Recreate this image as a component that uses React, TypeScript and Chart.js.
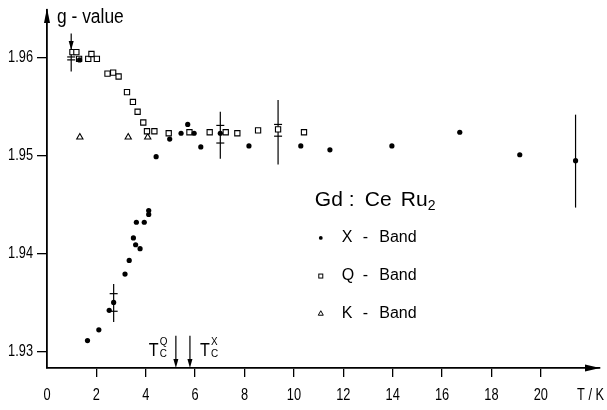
import React, { useEffect, useRef } from "react";
import { Chart, registerables } from "chart.js";

Chart.register(...registerables);

const REG = '"Liberation Sans", Arial, sans-serif';

// ---- axis ticks ----
const xTickValues = [0, 2, 4, 6, 8, 10, 12, 14, 16, 18, 20];
const yTickValues = [1.93, 1.94, 1.95, 1.96];
const xMin = 0;
const xMax = 22.4;
const yMin = 1.9283;
const yMax = 1.9649;

// ---- X-band (filled circles) ----
const xBandT = [1.32, 1.64, 2.1, 2.52, 2.7, 3.16, 3.33, 3.5, 3.59, 3.77, 3.62, 3.94, 4.12, 4.12, 4.42, 4.97, 5.43, 5.7, 5.96, 6.23, 7.02, 8.18, 10.28, 11.46, 13.97, 16.72, 19.15, 21.41];
const xBandG = [1.9598, 1.9311, 1.9322, 1.9342, 1.935, 1.9379, 1.9393, 1.9416, 1.9409, 1.9405, 1.9432, 1.9432, 1.944, 1.9444, 1.9499, 1.9517, 1.9523, 1.9532, 1.9523, 1.9509, 1.9523, 1.951, 1.951, 1.9506, 1.951, 1.9524, 1.9501, 1.9495];

// ---- Q-band (open squares) ----
const qBandT = [1.03, 1.19, 1.3, 1.67, 1.8, 2.02, 2.45, 2.68, 2.9, 3.24, 3.48, 3.67, 3.9, 4.05, 4.35, 4.93, 5.77, 6.59, 7.24, 7.71, 8.55, 9.36, 10.41];
const qBandG = [1.9606, 1.9606, 1.9599, 1.9599, 1.9604, 1.9599, 1.9584, 1.9585, 1.9581, 1.9565, 1.9555, 1.9545, 1.9534, 1.9525, 1.9525, 1.9523, 1.9524, 1.9524, 1.9524, 1.9523, 1.9526, 1.9527, 1.9524];

// ---- K-band (open triangles) ----
const kBandT = [1.33, 3.29, 4.08];
const kBandG = [1.9519, 1.9519, 1.9519];

// ---- error bars ----
const errT = [0.98, 2.7, 7.02, 9.36, 21.41];
const errHigh = [1.9625, 1.9369, 1.9545, 1.9557, 1.9542];
const errLow = [1.9586, 1.933, 1.9497, 1.9491, 1.9447];
const errCapHigh = [1.9601, 1.9359, 1.9531, 1.9532, null];
const errCapLow = [1.9598, 1.9341, 1.9513, 1.952, null];
const errArrow = [1.9608, null, null, null, null];

// ---- transition temperatures ----
const tcT = [5.22, 5.79];
const tcSup = ["Q", "X"];
const tcTopG = 1.9316;

// ---- legend ----
const legendTitleT = 10.85;
const legendTitleG = 1.9455;
const legendMarkerT = 11.09;
const legendTextT = 11.94;
const legendRowsG = [1.9416, 1.9377, 1.9339];
const legendNames = ["X", "Q", "K"];
const legendStyles = ["circle", "rect", "triangle"];

// draw horizontally condensed text (technical lettering look)
function narrowText(ctx: any, text: string, x: number, y: number, size: number, align: string, sx: number) {
  ctx.save();
  ctx.font = `${size}px ${REG}`;
  ctx.textBaseline = "middle";
  ctx.textAlign = align;
  ctx.translate(x, y);
  ctx.scale(sx, 1);
  ctx.fillText(text, 0, 0);
  ctx.restore();
}

const overlay = {
  id: "overlay",
  beforeDatasetsDraw(chart: any) {
    const { ctx } = chart;
    const x = chart.scales.x;
    const y = chart.scales.y;
    ctx.save();
    ctx.strokeStyle = "#000";
    ctx.fillStyle = "#000";
    ctx.lineWidth = 1.2;
    errT.forEach((t, i) => {
      const px = x.getPixelForValue(t);
      ctx.beginPath();
      ctx.moveTo(px, y.getPixelForValue(errHigh[i]));
      ctx.lineTo(px, y.getPixelForValue(errLow[i]));
      ctx.stroke();
      [errCapHigh[i], errCapLow[i]].forEach((c) => {
        if (c != null) {
          const py = y.getPixelForValue(c);
          ctx.beginPath();
          ctx.moveTo(px - 4, py);
          ctx.lineTo(px + 4, py);
          ctx.stroke();
        }
      });
      const a = errArrow[i];
      if (a != null) {
        const py = y.getPixelForValue(a);
        ctx.beginPath();
        ctx.moveTo(px, py);
        ctx.lineTo(px - 2.5, py - 9);
        ctx.lineTo(px + 2.5, py - 9);
        ctx.closePath();
        ctx.fill();
      }
    });
    ctx.restore();
  },
  afterDraw(chart: any) {
    const { ctx, chartArea } = chart;
    const x = chart.scales.x;
    const y = chart.scales.y;
    ctx.save();
    ctx.fillStyle = "#000";
    ctx.strokeStyle = "#000";

    // tick labels
    xTickValues.forEach((v) => {
      narrowText(ctx, String(v), x.getPixelForValue(v), chartArea.bottom + 28, 16, "center", 0.8);
    });
    yTickValues.forEach((v) => {
      narrowText(ctx, v.toFixed(2), chartArea.left - 14, y.getPixelForValue(v), 16, "right", 0.8);
    });

    // axis arrows
    ctx.beginPath();
    ctx.moveTo(chartArea.right, chartArea.bottom);
    ctx.lineTo(chartArea.right - 15, chartArea.bottom - 3.5);
    ctx.lineTo(chartArea.right - 15, chartArea.bottom + 3.5);
    ctx.closePath();
    ctx.fill();
    ctx.beginPath();
    ctx.moveTo(chartArea.left, chartArea.top - 2);
    ctx.lineTo(chartArea.left - 3, chartArea.top + 13);
    ctx.lineTo(chartArea.left + 3, chartArea.top + 13);
    ctx.closePath();
    ctx.fill();

    // axis titles
    narrowText(ctx, "g - value", chartArea.left + 10, chartArea.top + 7, 20, "left", 0.87);
    narrowText(ctx, "T / K", chartArea.right - 23, chartArea.bottom + 28, 16, "left", 0.8);

    // Tc arrows and labels
    ctx.lineWidth = 1.2;
    tcT.forEach((t, i) => {
      const px = x.getPixelForValue(t);
      const top = y.getPixelForValue(tcTopG);
      const bot = chartArea.bottom;
      ctx.beginPath();
      ctx.moveTo(px, top);
      ctx.lineTo(px, bot - 6);
      ctx.stroke();
      ctx.beginPath();
      ctx.moveTo(px, bot);
      ctx.lineTo(px - 2.5, bot - 9);
      ctx.lineTo(px + 2.5, bot - 9);
      ctx.closePath();
      ctx.fill();
      const lx = i === 0 ? px - 27 : px + 10;
      narrowText(ctx, "T", lx, top + 15, 19, "left", 0.85);
      narrowText(ctx, tcSup[i], lx + 11, top + 6, 11, "left", 0.9);
      narrowText(ctx, "C", lx + 11, top + 18, 11, "left", 0.9);
    });

    // legend title
    const tx = x.getPixelForValue(legendTitleT);
    const ty = y.getPixelForValue(legendTitleG);
    ctx.textBaseline = "middle";
    ctx.textAlign = "left";
    ctx.font = `21px ${REG}`;
    ctx.fillText("Gd", tx, ty);
    ctx.fillText(":", tx + 34, ty);
    ctx.fillText("Ce", tx + 50, ty);
    ctx.fillText("Ru", tx + 86, ty);
    ctx.font = `14px ${REG}`;
    ctx.fillText("2", tx + 113, ty + 6);

    // legend rows
    const mx = x.getPixelForValue(legendMarkerT);
    const txt = x.getPixelForValue(legendTextT);
    legendRowsG.forEach((g, i) => {
      const py = y.getPixelForValue(g);
      ctx.lineWidth = 1;
      const s = legendStyles[i];
      if (s === "circle") {
        ctx.beginPath();
        ctx.arc(mx, py, 1.9, 0, Math.PI * 2);
        ctx.fill();
      } else if (s === "rect") {
        ctx.strokeRect(mx - 2, py - 2, 4, 4);
      } else {
        ctx.beginPath();
        ctx.moveTo(mx, py - 2.5);
        ctx.lineTo(mx - 2.5, py + 2);
        ctx.lineTo(mx + 2.5, py + 2);
        ctx.closePath();
        ctx.stroke();
      }
      ctx.font = `16px ${REG}`;
      ctx.textBaseline = "middle";
      ctx.textAlign = "left";
      ctx.fillText(legendNames[i], txt, py);
      ctx.fillText("-", txt + 21, py);
      ctx.fillText("Band", txt + 37.5, py);
    });
    ctx.restore();
  },
};

export default function App() {
  const ref = useRef<HTMLCanvasElement>(null);
  useEffect(() => {
    if (!ref.current) return;
    const chart = new Chart(ref.current, {
      type: "scatter",
      data: {
        datasets: [
          {
            label: "X - Band",
            data: xBandT.map((t, i) => ({ x: t, y: xBandG[i] })),
            pointStyle: "circle",
            pointRadius: 2.6,
            backgroundColor: "#000",
            borderColor: "#000",
            borderWidth: 0,
          },
          {
            label: "Q - Band",
            data: qBandT.map((t, i) => ({ x: t, y: qBandG[i] })),
            pointStyle: "rect",
            pointRadius: 3.7,
            backgroundColor: "#fff",
            borderColor: "#000",
            borderWidth: 1.1,
          },
          {
            label: "K - Band",
            data: kBandT.map((t, i) => ({ x: t, y: kBandG[i] })),
            pointStyle: "triangle",
            pointRadius: 3.6,
            backgroundColor: "#fff",
            borderColor: "#000",
            borderWidth: 1.1,
          },
        ],
      },
      options: {
        responsive: false,
        animation: false,
        devicePixelRatio: 1,
        layout: { padding: { top: 10, right: 7, left: 0, bottom: 0 } },
        plugins: { legend: { display: false }, tooltip: { enabled: false } },
        scales: {
          x: {
            type: "linear",
            min: xMin,
            max: xMax,
            afterBuildTicks: (scale: any) => {
              scale.ticks = xTickValues.map((v) => ({ value: v }));
            },
            afterFit: (scale: any) => {
              scale.height = 42;
            },
            grid: {
              drawOnChartArea: false,
              drawTicks: true,
              tickLength: 9,
              lineWidth: 1.3,
              color: (c: any) => (c.tick && c.tick.value === 0 ? "rgba(0,0,0,0)" : "#000"),
            },
            border: { display: true, color: "#000", width: 1.8 },
            ticks: { display: false, autoSkip: false },
          },
          y: {
            type: "linear",
            min: yMin,
            max: yMax,
            afterBuildTicks: (scale: any) => {
              scale.ticks = yTickValues.map((v) => ({ value: v }));
            },
            afterFit: (scale: any) => {
              scale.width = 47;
            },
            grid: {
              drawOnChartArea: false,
              drawTicks: true,
              tickLength: 10,
              lineWidth: 1.3,
              color: "#000",
            },
            border: { display: true, color: "#000", width: 1.8 },
            ticks: { display: false, autoSkip: false },
          },
        },
      },
      plugins: [overlay],
    });
    return () => chart.destroy();
  }, []);
  return (
    <div style={{ position: "absolute", left: 0, top: 0, width: 607, height: 410, background: "#fff" }}>
      <canvas ref={ref} width={607} height={410} style={{ display: "block" }} />
    </div>
  );
}
